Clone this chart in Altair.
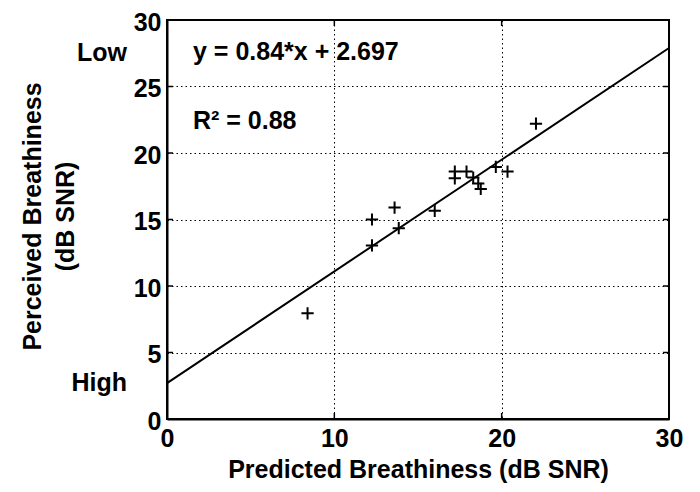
import altair as alt
import pandas as pd

# ---- data ----
predicted = [8.4, 12.25, 12.25, 13.6, 13.85, 16.0, 17.2, 17.2, 17.9, 18.3, 18.6, 18.75, 19.65, 20.35, 22.05]
perceived = [7.95, 13.05, 15.0, 15.9, 14.35, 15.65, 18.6, 18.1, 18.6, 18.15, 17.7, 17.3, 18.95, 18.6, 22.2]
slope = 0.84
intercept = 2.697
fit_x = [0, 30]
x_ticks = [0, 10, 20, 30]
y_ticks = [0, 5, 10, 15, 20, 25, 30]
eq_text = "y = 0.84*x + 2.697"
r2_text = "R\u00b2 = 0.88"
low_text = "Low"
high_text = "High"
x_title = "Predicted Breathiness (dB SNR)"
y_title = ["Perceived Breathiness", "(dB SNR)"]

FONT = "Liberation Sans"
FS = 25
W, H = 502, 399
TICK = 6

pts = pd.DataFrame({"pred": predicted, "perc": perceived})
fit = pd.DataFrame({"pred": fit_x, "perc": [slope * v + intercept for v in fit_x]})
xt = pd.DataFrame({"v": x_ticks})
yt = pd.DataFrame({"v": y_ticks})

xscale = alt.Scale(domain=[0, 30], nice=False, zero=False)
yscale = alt.Scale(domain=[0, 30], nice=False, zero=False)

common_axis = dict(
    grid=True, gridDash=[1.5, 3], gridColor="black", gridWidth=1, gridOpacity=1,
    tickSize=0, labelFontSize=FS, labelFont=FONT, labelFontWeight="bold",
    labelColor="black", labelFlush=False, labelOverlap=False,
    titleFont=FONT, titleFontSize=FS, titleFontWeight="bold", titleColor="black",
    domainColor="black", domainWidth=2,
)

xaxis = alt.Axis(values=x_ticks, title=x_title, labelPadding=7,
                 titleY=50, titleBaseline="middle", titleAlign="center", **common_axis)
yaxis = alt.Axis(values=y_ticks, title=y_title, labelPadding=6, labelOffset=2,
                 titleAngle=-90, titleX=-135, titleY=196, titleAlign="center",
                 titleBaseline="middle", titleLineHeight=33, **common_axis)

points = alt.Chart(pts).mark_point(
    shape="M-1,0L1,0M0,-1L0,1", size=150, filled=False, strokeWidth=2,
    color="black", opacity=1
).encode(
    x=alt.X("pred:Q", scale=xscale, axis=xaxis),
    y=alt.Y("perc:Q", scale=yscale, axis=yaxis),
)

line = alt.Chart(fit).mark_line(color="black", strokeWidth=2).encode(
    x=alt.X("pred:Q", scale=xscale),
    y=alt.Y("perc:Q", scale=yscale),
)

# inward tick marks on all four sides (MATLAB style)
tick_style = dict(color="black", strokeWidth=1.5)
yl = alt.Chart(yt).mark_rule(**tick_style).encode(
    y=alt.Y("v:Q", scale=yscale), x=alt.value(0), x2=alt.value(TICK))
yr = alt.Chart(yt).mark_rule(**tick_style).encode(
    y=alt.Y("v:Q", scale=yscale), x=alt.value(W - TICK), x2=alt.value(W))
xb = alt.Chart(xt).mark_rule(**tick_style).encode(
    x=alt.X("v:Q", scale=xscale), y=alt.value(H - TICK), y2=alt.value(H))
xtp = alt.Chart(xt).mark_rule(**tick_style).encode(
    x=alt.X("v:Q", scale=xscale), y=alt.value(0), y2=alt.value(TICK))

def label(txt, x, y, align):
    return alt.Chart(pd.DataFrame({"t": [txt]})).mark_text(
        font=FONT, fontSize=FS, fontWeight="bold", color="black",
        align=align, baseline="alphabetic"
    ).encode(x=alt.value(x), y=alt.value(y), text="t:N")

chart = alt.layer(
    line, points, yl, yr, xb, xtp,
    label(eq_text, 26, 40, "left"),
    label(r2_text, 26, 109, "left"),
    label(low_text, -40, 41, "right"),
    label(high_text, -40, 371, "right"),
).properties(
    width=W, height=H,
    autosize=alt.AutoSizeParams(type="none"),
    padding={"left": 159, "top": 12, "right": 20, "bottom": 70},
    background="white",
).configure_view(stroke="black", strokeWidth=2)

chart.save("out.html", embed_options={"renderer": "svg", "actions": False})
